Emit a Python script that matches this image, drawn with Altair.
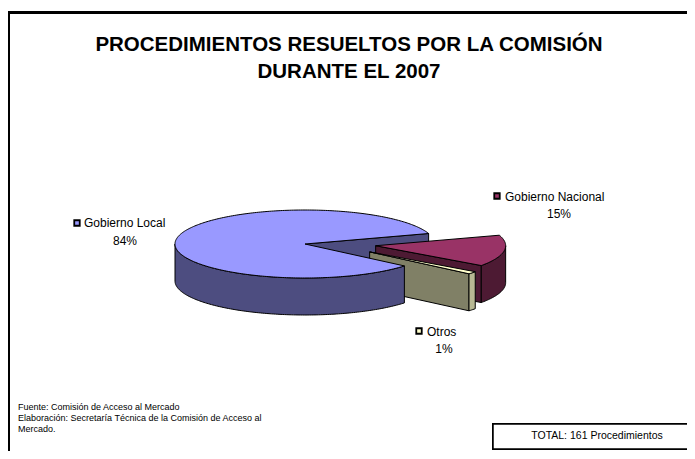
import math
import numpy as np
import pandas as pd
import altair as alt

# ---------------- data ----------------
categories = ["Gobierno Local", "Gobierno Nacional", "Otros"]
counts = [135, 24, 2]  # TOTAL: 161 procedimientos
title_lines = ["PROCEDIMIENTOS RESUELTOS POR LA COMISIÓN", "DURANTE EL 2007"]
source_lines = [
    "Fuente: Comisión de Acceso al Mercado",
    "Elaboración: Secretaría Técnica de la Comisión de Acceso al",
    "Mercado.",
]
total_label = "TOTAL: 161 Procedimientos"

# ---------------- styles / layout ----------------
top_colors = ["#9999FF", "#993366", "#FFFFCC"]
wall_colors = ["#4D4D80", "#4D1A33", "#808066"]
outer_colors = ["#4D4D80", "#4D1A33", "#B8B893"]
explode = [0.0, 0.55, 0.63]
explode_y = 0.6  # perspective flattening of the explosion offset
clockwise_order = [1, 2, 0]
start_angle = 18.0
FONT = "Liberation Sans"

W, H, M = 679, 443, 8
CX, CY, RX, RY, DEPTH = 305.0, 244.0, 130.0, 34.0, 37.0

total = sum(counts)
spans = [360.0 * c / total for c in counts]

slices = {}
a = start_angle
for i in clockwise_order:
    t1, t2 = a, a - spans[i]
    a = t2
    mid = math.radians((t1 + t2) / 2)
    slices[i] = (t1, t2, explode[i] * RX * math.cos(mid),
                 -explode[i] * RY * math.sin(mid) * explode_y)


def pt(i, deg, dz=0.0):
    t1, t2, ox, oy = slices[i]
    r = math.radians(deg)
    return (CX + ox + RX * math.cos(r), CY + oy - RY * math.sin(r) + dz)


def arc(i, a_from, a_to, dz=0.0):
    n = max(2, int(abs(a_to - a_from)) + 2)
    return [pt(i, d, dz) for d in np.linspace(a_from, a_to, n)]


def apex(i, dz=0.0):
    t1, t2, ox, oy = slices[i]
    return (CX + ox, CY + oy + dz)


def top_face(i):
    t1, t2, _, _ = slices[i]
    return [apex(i)] + arc(i, t1, t2)


def outer_walls(i):
    t1, t2, _, _ = slices[i]
    segs = []
    for k in range(-2, 2):
        lo, hi = -180 + 360 * k, 360 * k
        a0, a1 = max(t2, lo), min(t1, hi)
        if a1 > a0:
            segs.append(arc(i, a1, a0) + arc(i, a0, a1, DEPTH))
    return segs


def radial_walls(i):
    t1, t2, _, _ = slices[i]
    out = []
    for th, vis in ((t1, math.cos(math.radians(t1)) < 0), (t2, math.cos(math.radians(t2)) > 0)):
        if vis:
            out.append([apex(i), pt(i, th), pt(i, th, DEPTH), apex(i, DEPTH)])
    return out


polys = []
for w in radial_walls(0):
    polys.append((wall_colors[0], w))
for i in (1, 2):
    for w in radial_walls(i):
        polys.append((wall_colors[i], w))
    for w in outer_walls(i):
        polys.append((outer_colors[i], w))
    polys.append((top_colors[i], top_face(i)))
for w in outer_walls(0):
    polys.append((outer_colors[0], w))
polys.append((top_colors[0], top_face(0)))

rows = []
for p, (fill, pts) in enumerate(polys):
    for j, (x, y) in enumerate(pts):
        rows.append({"poly": p, "j": j, "x": x, "y": y})
df = pd.DataFrame(rows)

xscale = alt.Scale(domain=[M, M + W], nice=False, zero=False)
yscale = alt.Scale(domain=[M + H, M], nice=False, zero=False)
X = lambda f: alt.X(f, type="quantitative", scale=xscale, axis=None)
Y = lambda f: alt.Y(f, type="quantitative", scale=yscale, axis=None)

layers = []
for p, (fill, pts) in enumerate(polys):
    layers.append(
        alt.Chart(df)
        .transform_filter(alt.datum.poly == p)
        .mark_line(interpolate="linear-closed", fill=fill, stroke="black",
                   strokeWidth=1, strokeJoin="round")
        .encode(x=X("x"), y=Y("y"), order=alt.Order("j:Q"))
    )

# ---------------- labels ----------------
pct = [f"{round(100 * c / total)}%" for c in counts]
key_pos = [(77, 223), (497, 196), (419, 331)]
name_pos = [(84, 223), (505, 197), (427, 332)]
pct_pos = [(125, 241), (559, 214), (444, 349)]

keys = pd.DataFrame({"x": [k[0] for k in key_pos], "y": [k[1] for k in key_pos], "c": top_colors})
layers.append(
    alt.Chart(keys).mark_square(size=30, stroke="black", strokeWidth=1.8, opacity=1)
    .encode(x=X("x"), y=Y("y"), fill=alt.Fill("c:N", scale=None))
)
names = pd.DataFrame({"x": [p[0] for p in name_pos], "y": [p[1] for p in name_pos], "t": categories})
layers.append(
    alt.Chart(names).mark_text(align="left", baseline="middle", font=FONT, fontSize=12, color="black")
    .encode(x=X("x"), y=Y("y"), text="t:N")
)
pcts = pd.DataFrame({"x": [p[0] for p in pct_pos], "y": [p[1] for p in pct_pos], "t": pct})
layers.append(
    alt.Chart(pcts).mark_text(align="center", baseline="middle", font=FONT, fontSize=12, color="black")
    .encode(x=X("x"), y=Y("y"), text="t:N")
)

titles = pd.DataFrame({"x": [349, 349], "y": [45, 72], "t": title_lines})
layers.append(
    alt.Chart(titles).mark_text(align="center", baseline="middle", font=FONT, fontSize=20.5,
                                fontWeight="bold", color="black")
    .encode(x=X("x"), y=Y("y"), text="t:N")
)
src = pd.DataFrame({"x": [18, 18, 18], "y": [407, 418, 429], "t": source_lines})
layers.append(
    alt.Chart(src).mark_text(align="left", baseline="middle", font=FONT, fontSize=9, color="black")
    .encode(x=X("x"), y=Y("y"), text="t:N")
)

# total box and frame (decorations)
layers.append(
    alt.Chart(df).mark_rect(fill="white", stroke="black", strokeWidth=1.5)
    .encode(x=alt.value(493 - M), x2=alt.value(W + 20), y=alt.value(424 - M), y2=alt.value(449 - M))
)
tot = pd.DataFrame({"x": [597], "y": [436], "t": [total_label]})
layers.append(
    alt.Chart(tot).mark_text(align="center", baseline="middle", font=FONT, fontSize=10.5, color="black")
    .encode(x=X("x"), y=Y("y"), text="t:N")
)
layers.append(
    alt.Chart(df).mark_rule(color="black", strokeWidth=2)
    .encode(x=alt.value(1), y=alt.value(4.5), y2=alt.value(H + 20))
)
layers.append(
    alt.Chart(df).mark_rule(color="black", strokeWidth=2)
    .encode(x=alt.value(0), x2=alt.value(W + 20), y=alt.value(4.5))
)

chart = (
    alt.layer(*layers)
    .properties(width=W, height=H, padding=0, autosize=alt.AutoSizeParams(type="none"),
                background="white")
    .configure_view(stroke=None)
)
chart.save("out.html", embed_options={"renderer": "svg", "actions": False})
